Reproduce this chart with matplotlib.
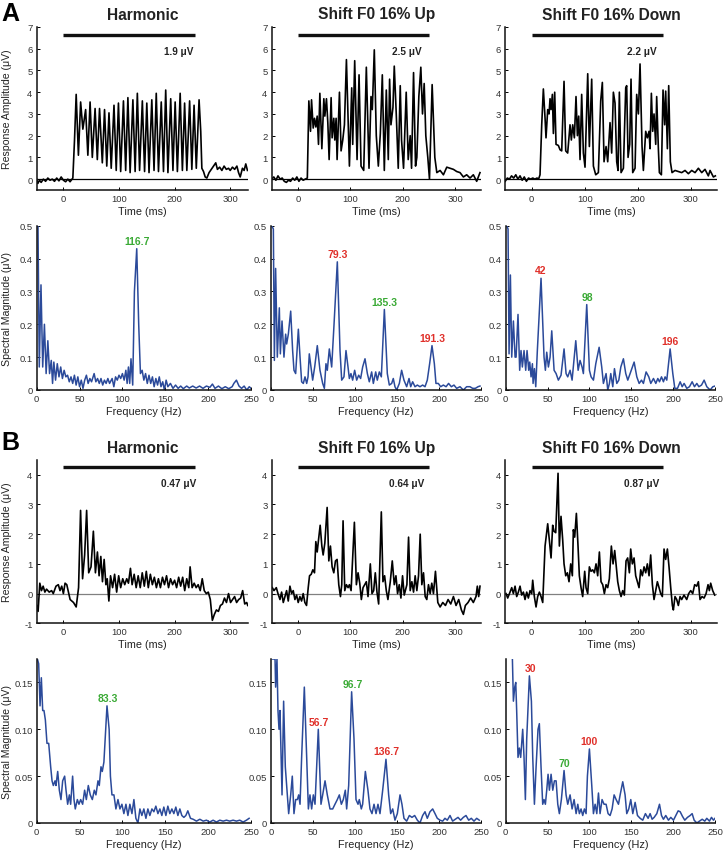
import numpy as np
import matplotlib
matplotlib.use("Agg")
import matplotlib.pyplot as plt

plt.rcParams['font.family'] = ['Liberation Sans', 'DejaVu Sans']
plt.rcParams['axes.unicode_minus'] = False

# ---------------- data ----------------
titles = ['Harmonic', 'Shift F0 16% Up', 'Shift F0 16% Down']
amp_labels_A = ['1.9 \u03bcV', '2.5 \u03bcV', '2.2 \u03bcV']
amp_labels_B = ['0.47 \u03bcV', '0.64 \u03bcV', '0.87 \u03bcV']
stim_end = [237, 250, 248]

# time traces (ms, uV)
time_A_harm = [(-48, 0.0), (-46, -0.2), (-43, -0.05), (-40, -0.15), (-36, 0.0), (-32, -0.1), (-28, 0.05),
               (-24, -0.05), (-20, 0.0), (-16, -0.1), (-12, 0.05), (-8, -0.08), (-4, 0.1), (0, -0.05),
               (4, -0.12), (8, 0.0), (12, -0.12), (17, 0.05), (20, 1.8), (23, 3.9), (27, 1.1), (31, 3.55),
               (35, 2.3), (40, 3.2), (44, 1.1), (48, 3.55), (52, 1.0), (57, 3.25), (61, 0.9), (65, 3.25),
               (70, 0.75), (74, 3.2), (78, 0.6), (82, 3.05), (86, 0.5), (91, 3.4), (95, 0.4), (99, 3.5),
               (103, 0.35), (108, 3.6), (112, 0.4), (116, 3.75), (120, 0.3), (125, 3.65), (129, 0.35),
               (133, 3.95), (137, 0.4), (142, 3.6), (146, 0.35), (150, 3.5), (154, 0.3), (159, 3.65),
               (163, 0.4), (167, 3.95), (171, 0.35), (176, 3.55), (180, 0.35), (184, 4.1), (188, 0.3),
               (193, 3.7), (197, 0.4), (201, 3.55), (205, 0.35), (210, 3.95), (214, 0.4), (218, 3.5),
               (222, 0.4), (227, 3.6), (231, 0.45), (235, 3.4), (239, 0.5), (244, 3.65), (247, 2.2),
               (249, 0.5), (252, 0.35), (255, 0.1), (258, 0.05), (262, 0.3), (266, 0.45), (270, 0.6),
               (274, 0.75), (277, 0.45), (281, 0.55), (285, 0.4), (289, 0.6), (293, 0.45), (297, 0.5),
               (300, 0.4), (304, 0.55), (308, 0.45), (312, 0.6), (315, 0.3), (318, 0.1), (322, 0.5),
               (325, 0.4), (328, 0.7), (331, 0.4)]

time_A_up = [(-50, 0.0), (-46, 0.1), (-42, -0.05), (-38, 0.15), (-34, 0.0), (-30, 0.05), (-26, -0.1),
             (-22, -0.15), (-18, -0.05), (-14, -0.1), (-10, 0.05), (-6, -0.05), (-2, 0.1), (2, -0.1),
             (6, 0.05), (10, -0.05), (14, 0.0), (18, 0.05), (20.9, 3.6), (24.1, 2.2), (26, 3.65), (29.2, 2.35),
             (31.7, 2.8), (34.2, 2.4), (36.8, 2.9), (39.3, 1.6), (41.9, 3.95), (45.7, 1.4), (49.5, 3.7),
             (51.4, 2.9), (54.5, 3.7), (57.1, 2.6), (59.6, 0.9), (63.4, 3.75), (65.3, 1.9), (68.5, 2.8),
             (70.4, 1.8), (72.9, 2.8), (74.8, 0.9), (79.3, 4.0), (82.4, 1.3), (85.6, 1.8), (88.8, 2.5),
             (92.6, 5.5), (98.3, 0.6), (102.7, 4.2), (104.6, 1.6), (108.4, 5.45), (112.9, 0.9), (116.7, 4.8),
             (120.5, 0.6), (125.6, 0.4), (130.6, 5.15), (135.7, 0.5), (139.5, 3.8), (142, 3.2), (145.8, 5.95),
             (149.6, 2.0), (153.5, 0.6), (157.3, 2.1), (161.1, 4.8), (164.9, 0.4), (168.7, 4.1), (172.5, 0.9),
             (175, 4.6), (177.6, 2.5), (181.4, 3.3), (183.9, 5.2), (187.7, 3.0), (191.5, 0.5), (195.3, 4.3),
             (197.8, 1.8), (201.6, 0.5), (206.7, 4.0), (210.5, 0.9), (214.3, 2.0), (216.9, 0.5), (220.7, 4.9),
             (224.5, 0.6), (227, 1.0), (230.8, 3.8), (234.6, 5.15), (237.8, 3.0), (241, 4.4), (244.1, 2.0),
             (247.9, 1.0), (251.1, 0.0), (256.2, 4.35), (261.3, 1.0), (265.1, 0.3), (271.4, 0.4),
             (277.7, 0.2), (284.1, 0.55), (290.4, 0.5), (296.8, 0.45), (303.1, 0.35), (309.4, 0.3),
             (315.8, 0.1), (322.1, 0.2), (328.5, 0.05), (334.8, 0.2), (341.2, -0.1), (347.5, 0.3)]

time_A_down = [(-50, -0.1), (-46, 0.05), (-42, 0.0), (-38, 0.15), (-34, 0.05), (-30, 0.2), (-26, 0.0),
               (-22, 0.15), (-18, -0.05), (-14, 0.1), (-10, -0.1), (-6, 0.05), (-2, 0.0), (2, 0.05),
               (6, 0.0), (10, 0.05), (13, 0.0), (15.7, 0.2), (18.9, 2.5), (22, 4.15), (25.2, 2.8), (27, 1.9),
               (30.2, 3.2), (32.7, 3.0), (34.6, 3.7), (36.5, 3.2), (39, 3.9), (40.9, 2.1), (43.4, 4.0),
               (45.9, 1.6), (50.3, 1.55), (53.5, 1.35), (56.6, 1.3), (61, 4.5), (64.2, 1.3), (67.9, 1.2),
               (72.3, 2.5), (74.8, 1.8), (77.4, 2.5), (80.5, 1.9), (83.6, 3.8), (86.2, 2.0), (88.7, 2.9),
               (91.2, 0.9), (94.3, 3.9), (97.5, 1.2), (100.6, 0.55), (105.7, 4.85), (108.8, 1.5), (113.2, 4.6),
               (116.4, 0.6), (120.8, 0.2), (125.8, 0.3), (130.2, 3.6), (133.3, 4.45), (136.5, 0.8),
               (140.3, 1.5), (143.4, 0.8), (147.8, 2.6), (150.9, 1.2), (154.1, 4.0), (157.2, 3.5),
               (160.4, 0.8), (162.9, 0.4), (165.4, 4.0), (168.6, 0.3), (173, 0.5), (177.4, 4.2), (179.2, 4.3),
               (181.8, 1.0), (184.9, 1.6), (187.4, 4.6), (190.6, 0.3), (195, 0.5), (198.1, 3.9), (201.3, 3.0),
               (204.4, 5.3), (208.2, 1.5), (210.7, 0.4), (215.1, 2.2), (218.2, 1.9), (221.4, 2.2),
               (223.3, 1.4), (225.8, 3.95), (228.3, 2.2), (230.8, 3.0), (234, 1.6), (235.8, 3.8), (239, 1.4),
               (240.9, 0.3), (244.7, 0.2), (247.8, 4.1), (250.9, 2.5), (252.8, 4.05), (256, 1.4),
               (258.5, 4.3), (261.6, 0.8), (264.8, 0.3), (270.4, 0.4), (276.7, 0.35), (283, 0.3),
               (289.3, 0.4), (295.6, 0.25), (301.9, 0.4), (308.2, 0.3), (314.5, 0.5), (320.8, 0.3),
               (327, 0.45), (333.3, 0.15), (336.5, 0.4), (342.8, 0.1), (346.5, 0.15)]

time_B_harm = [(-48, -0.4), (-45.5, -0.6), (-42.4, 0.35), (-39.4, 0.1), (-36.4, 0.25), (-33.3, 0.05),
               (-30.3, 0.15), (-25.5, 0.05), (-21.2, 0.1), (-18.2, 0.0), (-13.3, 0.25), (-9.1, 0.3),
               (-6.1, 0.1), (-3, 0.25), (0, 0.0), (3, 0.35), (6.1, 0.3), (9.1, 0.05), (12.1, -0.2),
               (18.2, -0.3), (23, -0.45), (27.3, 0.2), (30.9, 2.8), (34.5, 0.5), (38.2, 1.3), (41.8, 2.8),
               (45.5, 0.7), (49.7, 0.9), (53.9, 2.1), (57.6, 0.7), (61.2, 1.4), (64.2, 0.6), (67.3, 1.25),
               (70.3, 0.4), (73.3, 1.15), (76.4, 0.3), (78.8, 0.5), (81.8, -0.25), (84.8, 0.6), (88.5, 0.2),
               (92.1, 0.65), (95.8, 0.05), (99.4, 0.6), (103, 0.2), (106.7, 0.5), (110.3, 0.3), (113.9, 0.5),
               (117, 0.35), (120.6, 0.85), (123.6, 0.3), (127.3, 0.65), (130.9, 0.2), (134.5, 0.6),
               (138.2, 0.2), (141.8, 0.7), (145.5, 0.25), (149.1, 0.75), (152.7, 0.2), (156.4, 0.65),
               (160, 0.3), (163.6, 0.55), (167.3, 0.2), (170.9, 0.5), (174.5, 0.2), (178.2, 0.55),
               (181.8, 0.3), (185.5, 0.6), (189.1, 0.2), (192.7, 0.5), (196.4, 0.3), (200, 0.45),
               (203.6, 0.2), (207.3, 0.55), (210.9, 0.25), (214.5, 0.55), (218.2, 0.1), (221.8, 0.5),
               (225.5, 0.2), (227.9, 0.9), (231.5, 0.2), (235.2, 0.35), (238.8, 0.2), (242.4, 0.3),
               (246.1, 0.1), (249.7, 0.5), (253.3, 0.1), (257, 0.0), (260.6, 0.05), (264.2, -0.2),
               (267.9, -0.9), (271.5, -0.7), (275.2, -0.55), (278.8, -0.6), (282.4, -0.4), (286.1, -0.35),
               (289.7, -0.15), (293.3, -0.3), (297, 0.0), (300.6, -0.3), (304.2, -0.2), (307.9, -0.1),
               (311.5, -0.3), (315.2, -0.2), (318.8, -0.15), (322.4, 0.1), (326.1, -0.35), (329.7, -0.3),
               (331.5, -0.4)]

time_B_up = [(-48.8, 0.2), (-45.7, 0.1), (-41.2, 0.2), (-38, 0.0), (-34.2, -0.2), (-31.1, 0.05), (-27.9, -0.3),
             (-24.7, -0.1), (-21.6, 0.1), (-18.4, -0.25), (-15.2, 0.25), (-12, 0.0), (-8.9, 0.1), (-5.7, -0.2),
             (-2.5, -0.05), (0.6, -0.3), (3.8, -0.1), (7, -0.25), (10.1, 0.0), (13.3, -0.3), (16.5, -0.4),
             (19.7, 0.2), (22.2, 0.6), (25.4, 0.65), (28.5, 0.8), (31.7, 0.7), (34.2, 1.75), (36.8, 1.4),
             (39.3, 1.8), (42.5, 2.3), (45.7, 1.6), (48.2, 1.3), (51.4, 1.7), (55.8, 2.9), (59, 1.1),
             (62.1, 1.6), (65.3, 0.9), (68.5, 0.7), (71.7, 1.1), (74.8, 1.15), (78, 0.3), (81.2, -0.1),
             (83.7, 0.3), (86.2, 2.45), (89.4, 0.1), (92.6, 0.3), (95.8, 0.2), (98.3, 0.3), (101.5, 0.1),
             (107.8, 2.4), (111.6, 0.3), (114.8, 0.7), (118, 0.35), (121.1, -0.2), (124.3, 0.2), (127.5, 0.3),
             (130.6, 0.4), (133.8, -0.1), (138.2, 1.0), (141.4, 0.0), (144.6, 0.1), (147.7, 0.7),
             (150.9, 0.05), (154.1, -0.35), (159.2, 2.75), (162.3, 0.4), (165.5, 0.6), (168.7, 0.1),
             (171.8, -0.2), (176.3, 0.4), (180.1, 1.1), (183.9, 0.3), (187.1, 0.6), (190.2, 0.0),
             (193.4, 0.3), (196.6, -0.15), (199.7, 0.6), (202.9, -0.05), (208, 0.3), (211.2, 1.9),
             (214.3, 0.1), (217.5, 0.4), (220.7, 0.05), (223.8, 0.6), (227, 0.1), (230.2, 0.6), (233.4, 2.0),
             (236.5, 0.3), (239.7, 0.7), (242.9, -0.1), (246, -0.2), (249.2, 0.3), (252.4, 0.0),
             (255.5, 0.35), (258.7, 0.0), (262.5, 0.75), (267, -0.3), (271.4, -0.45), (276.5, -0.3),
             (281.6, -0.4), (286.6, -0.2), (291.7, -0.35), (296.8, -0.1), (301.8, -0.4), (306.9, -0.2),
             (312, -0.55), (315.8, -0.7), (319.6, -0.4), (324.7, -0.3), (329.7, -0.15), (334.8, -0.3),
             (339.9, -0.1), (342.4, 0.25), (345, -0.1), (347.5, 0.25)]

time_B_down = [(-48.4, 0.0), (-45.3, -0.15), (-40.9, 0.05), (-37.7, 0.2), (-34.6, 0.0), (-31.4, 0.25),
               (-28.3, -0.1), (-25.2, 0.05), (-22, 0.25), (-18.9, -0.05), (-15.7, 0.05), (-12.6, -0.2),
               (-9.4, 0.05), (-6.3, -0.15), (-3.1, 0.1), (0, 0.0), (1.9, 0.45), (5, -0.1), (8.2, -0.45),
               (11.3, -0.1), (14.5, 0.05), (17.6, -0.1), (20.8, -0.3), (25.2, 1.6), (30.2, 2.35), (33.3, 1.8),
               (36.5, 1.2), (39.6, 2.3), (42.1, 2.1), (45.3, 2.05), (49.7, 4.05), (52.2, 1.6), (55.3, 2.6),
               (58.5, 1.8), (61, 1.0), (64.2, 0.6), (67.3, 0.7), (70.4, 0.4), (73.6, 1.0), (76.7, 0.6),
               (78.6, 2.15), (81.1, 1.9), (84.3, 2.7), (87.4, 1.6), (89.9, 0.6), (93.1, 0.2), (96.2, -0.1),
               (100, 0.75), (102.5, 0.2), (105.7, 0.0), (108.8, 0.9), (111.9, 0.75), (115.1, 0.8),
               (118.2, 0.7), (121.4, 1.0), (124.5, 0.6), (127.7, 1.4), (130.8, 0.4), (134, 0.3), (137.1, 0.0),
               (140.3, 0.3), (143.4, 0.2), (146.5, 0.5), (150.3, 1.6), (153.5, 1.0), (156.6, 1.45),
               (159.1, 1.0), (162.3, 0.4), (165.4, 0.1), (168.6, -0.1), (171.7, 0.1), (174.8, -0.05),
               (178, 1.1), (181.1, 1.2), (184.3, 0.7), (186.8, 1.5), (189.9, 1.0), (193.1, 1.2), (196.2, 0.6),
               (199.4, 0.4), (202.5, 0.2), (205.7, 0.8), (208.8, 0.6), (212, 0.9), (215.1, 0.7), (218.2, 1.0),
               (221.4, 0.6), (224.5, 1.3), (227.7, 0.3), (230.8, -0.2), (234, 0.1), (237.1, 0.4), (240.3, 0.2),
               (243.4, 0.0), (246.5, -0.1), (249.7, 1.5), (252.8, 1.15), (256, 1.5), (259.1, 0.9),
               (262.3, 0.2), (265.4, -0.4), (267.3, -0.55), (270.4, -0.1), (273.6, -0.2), (276.7, -0.4),
               (279.9, -0.1), (283, -0.2), (287.4, -0.05), (292.5, -0.2), (296.2, 0.0), (300, 0.1),
               (303.8, 0.0), (307.5, 0.3), (311.3, 0.25), (314.5, 0.4), (317.6, -0.2), (321.4, -0.1),
               (325.2, -0.15), (329, 0.0), (332.7, 0.3), (335.2, 0.1), (337.7, 0.35), (341.5, 0.1),
               (345.3, -0.05)]

# spectra (Hz, uV)
spec_A_harm = [(0, 0.5), (1.5, 0.5), (3, 0.07), (5, 0.32), (7, 0.07), (9, 0.2), (11, 0.05), (13, 0.15),
               (15, 0.05), (17, 0.09), (18.5, 0.02), (20, 0.085), (22, 0.03), (24, 0.08), (26, 0.04),
               (28, 0.07), (30, 0.035), (32, 0.06), (34, 0.04), (36, 0.045), (38, 0.025), (40, 0.04),
               (42, 0.02), (44, 0.045), (46, 0.015), (48, 0.04), (50, 0.01), (52, 0.03), (54, 0.005),
               (56, 0.03), (58, 0.045), (60, 0.02), (62, 0.035), (64, 0.025), (67, 0.05), (69, 0.025),
               (71, 0.035), (73, 0.02), (75, 0.035), (77, 0.015), (79, 0.03), (81, 0.02), (83, 0.035),
               (85, 0.02), (88, 0.035), (90, 0.01), (92, 0.04), (94, 0.03), (96, 0.045), (98, 0.035),
               (100, 0.05), (102, 0.03), (104, 0.06), (105.5, 0.02), (107, 0.07), (108.5, 0.02), (110, 0.095),
               (112, 0.015), (114, 0.3), (116.7, 0.43), (119, 0.2), (121, 0.05), (123, 0.06), (125, 0.03),
               (127, 0.05), (129, 0.02), (131, 0.045), (133, 0.02), (135, 0.04), (137, 0.01), (139, 0.035),
               (141, 0.015), (143, 0.04), (145, 0.01), (147, 0.025), (149, 0.0), (151, 0.03), (153, 0.01),
               (156, 0.02), (159, 0.005), (162, 0.015), (165, 0.005), (168, 0.012), (171, 0.004),
               (175, 0.012), (178, 0.006), (182, 0.012), (186, 0.006), (190, 0.012), (194, 0.005),
               (198, 0.012), (202, 0.008), (205, 0.018), (208, 0.005), (212, 0.012), (216, 0.004),
               (220, 0.01), (224, 0.004), (228, 0.01), (230, 0.02), (233, 0.03), (236, 0.012), (239, 0.005),
               (242, 0.012), (245, 0.0), (248, 0.01), (250, 0.005)]

spec_A_up = [(0.8, 0.5), (2.8, 0.49), (4, 0.09), (5.5, 0.37), (7.5, 0.1), (9.9, 0.25), (11.1, 0.11),
             (13.1, 0.21), (15.4, 0.1), (17.4, 0.17), (18.6, 0.14), (20.6, 0.17), (23.4, 0.24), (25.7, 0.12),
             (27.3, 0.06), (29.3, 0.05), (32.5, 0.185), (34.5, 0.1), (36.4, 0.025), (38.4, 0.02), (40.4, 0.04),
             (42.4, 0.02), (44, 0.04), (45.5, 0.11), (47.5, 0.07), (49.5, 0.03), (51.9, 0.07), (55, 0.135),
             (58.2, 0.06), (61.4, 0.02), (63.4, 0.005), (65.3, 0.08), (66.9, 0.06), (69.3, 0.125),
             (72.1, 0.07), (74.9, 0.2), (78.8, 0.39), (82, 0.12), (84, 0.03), (86.7, 0.04), (89.1, 0.12),
             (91.5, 0.07), (93.1, 0.035), (95, 0.05), (97, 0.03), (99.4, 0.06), (101.8, 0.03), (104.2, 0.045),
             (106.5, 0.035), (108.9, 0.07), (111.7, 0.095), (114.5, 0.05), (116.8, 0.025), (119.6, 0.055),
             (121.6, 0.02), (124.4, 0.055), (126.3, 0.03), (128.7, 0.055), (131.1, 0.04), (134.7, 0.245),
             (138.2, 0.05), (140.6, 0.015), (143.4, 0.02), (145.3, 0.035), (147.3, 0.01), (149.3, 0.0),
             (152.5, 0.02), (155.2, 0.06), (158, 0.03), (161.2, 0.01), (164, 0.035), (166, 0.01),
             (168.3, 0.025), (171.1, 0.01), (173.9, 0.015), (177, 0.01), (180.2, 0.015), (183, 0.01),
             (185.7, 0.03), (188.5, 0.08), (191.3, 0.135), (194.1, 0.08), (196, 0.02), (198.8, 0.02),
             (201.6, 0.01), (204.8, 0.015), (208, 0.01), (211, 0.02), (214.3, 0.01), (217.4, 0.015),
             (220.6, 0.005), (224.6, 0.01), (228.5, 0.0), (232.5, 0.01), (236.4, 0.01), (239.6, 0.005),
             (242.8, 0.005), (246, 0.01), (248.3, 0.012)]

spec_A_down = [(1.2, 0.5), (2.8, 0.49), (4, 0.11), (5.6, 0.35), (7.2, 0.1), (9.2, 0.21), (11.2, 0.1),
               (12.4, 0.1), (14.7, 0.23), (16.7, 0.06), (18.3, 0.12), (19.9, 0.07), (21.9, 0.12), (23.9, 0.06),
               (25.5, 0.12), (27.5, 0.06), (28.7, 0.085), (30.3, 0.04), (31.9, 0.08), (32.7, 0.02),
               (34.3, 0.065), (35.9, 0.01), (37.8, 0.12), (42.2, 0.34), (45.8, 0.1), (47.4, 0.06), (49, 0.115),
               (51, 0.07), (53, 0.1), (55, 0.18), (57.8, 0.06), (60.2, 0.05), (62.9, 0.03), (66.1, 0.045),
               (69.7, 0.125), (72.1, 0.05), (74.1, 0.04), (76.9, 0.06), (79.3, 0.03), (83.7, 0.15),
               (86.5, 0.06), (88.8, 0.09), (91.2, 0.07), (92.8, 0.05), (96.8, 0.26), (100, 0.06), (102, 0.04),
               (104.8, 0.03), (107.6, 0.08), (111.6, 0.13), (114.7, 0.07), (116.7, 0.02), (119.9, 0.05),
               (121.9, 0.0), (123.9, 0.02), (125.5, 0.05), (127.9, 0.01), (129.9, 0.065), (132.7, 0.02),
               (135.1, 0.03), (137.5, 0.07), (140.6, 0.095), (143.4, 0.05), (145.8, 0.03), (148.6, 0.05),
               (153.4, 0.085), (156.6, 0.04), (159.4, 0.02), (162.2, 0.03), (164.5, 0.02), (167.7, 0.055),
               (170.9, 0.04), (173.3, 0.02), (176.5, 0.035), (179.3, 0.02), (181.7, 0.035), (183.7, 0.025),
               (186.1, 0.04), (188.4, 0.025), (190.4, 0.04), (192.4, 0.03), (196.4, 0.125), (199.6, 0.05),
               (202, 0.005), (205.2, 0.005), (208.4, 0.025), (210.8, 0.01), (213.1, 0.02), (216.3, 0.005),
               (219.5, 0.01), (222.7, 0.025), (225.5, 0.01), (228.3, 0.02), (230.7, 0.01), (233.9, 0.015),
               (237, 0.03), (240.2, 0.01), (244.2, 0.0), (247.4, 0.01), (250, 0.012)]

spec_B_harm = [(0.8, 0.175), (2.3, 0.17), (3.9, 0.125), (5.4, 0.155), (7, 0.12), (8.5, 0.12), (10.1, 0.11),
               (12, 0.085), (14, 0.085), (16.3, 0.06), (17.9, 0.045), (19.4, 0.04), (21.4, 0.045),
               (22.5, 0.04), (24.5, 0.055), (26.4, 0.035), (28.3, 0.025), (30.3, 0.045), (32.6, 0.05),
               (34.2, 0.035), (36.1, 0.02), (38.1, 0.03), (39.6, 0.02), (41.9, 0.05), (43.5, 0.025),
               (45, 0.015), (47.4, 0.025), (49.3, 0.02), (51.3, 0.025), (53.6, 0.02), (55.9, 0.035),
               (57.9, 0.025), (60.2, 0.04), (62.5, 0.03), (64.9, 0.025), (67.2, 0.035), (69.1, 0.03),
               (71.5, 0.045), (73, 0.04), (75, 0.06), (76.5, 0.055), (78.4, 0.065), (82, 0.125), (84.5, 0.1),
               (86, 0.05), (87.8, 0.03), (90.1, 0.03), (92.4, 0.015), (94.8, 0.025), (97.1, 0.015),
               (99.4, 0.02), (101.7, 0.01), (104.1, 0.02), (106.4, 0.008), (108.7, 0.02), (111.1, 0.01),
               (113.4, 0.025), (115.7, 0.005), (118.1, 0.0), (120.4, 0.015), (122.7, 0.008), (125, 0.015),
               (127.4, 0.005), (129.7, 0.015), (132, 0.008), (134.4, 0.015), (136.7, 0.012), (139, 0.018),
               (141.4, 0.01), (143.7, 0.015), (146, 0.008), (148.3, 0.017), (150.7, 0.008), (153, 0.018),
               (155.3, 0.01), (157.7, 0.015), (160, 0.01), (162.3, 0.017), (164.7, 0.008), (167, 0.015),
               (169.3, 0.008), (171.7, 0.006), (174, 0.008), (176.3, 0.013), (179.4, 0.005), (182.5, 0.004),
               (186.4, 0.002), (190.3, 0.004), (194.2, 0.002), (198.1, 0.003), (201.9, 0.001), (205.8, 0.003),
               (209.7, 0.001), (213.6, 0.003), (217.5, 0.002), (221.4, 0.003), (225.2, 0.002), (229.1, 0.003),
               (233, 0.002), (236.9, 0.003), (240.8, 0.001), (244.7, 0.003), (247.8, 0.005)]

spec_B_up = [(1.6, 0.175), (4.8, 0.175), (5.5, 0.145), (7.1, 0.175), (8.3, 0.12), (9.5, 0.1), (10.7, 0.12),
             (13.1, 0.03), (15, 0.13), (17, 0.06), (19.4, 0.03), (21, 0.01), (23.4, 0.03), (25.3, 0.05),
             (27.3, 0.01), (29.3, 0.025), (31.3, 0.025), (32.9, 0.03), (34.5, 0.02), (36.4, 0.07),
             (39.6, 0.145), (42.4, 0.07), (44.4, 0.015), (46.3, 0.03), (48.3, 0.015), (50.3, 0.03),
             (52.3, 0.02), (56.2, 0.1), (59.4, 0.02), (61.4, 0.03), (64.2, 0.045), (66.9, 0.03),
             (70.1, 0.015), (73.3, 0.015), (76, 0.02), (78.8, 0.025), (81.2, 0.03), (83.6, 0.02),
             (85.9, 0.025), (88.3, 0.035), (89.9, 0.015), (92.3, 0.04), (95.8, 0.14), (98.6, 0.09),
             (101, 0.025), (103.4, 0.02), (104.9, 0.025), (107.3, 0.015), (108.9, 0.02), (112.1, 0.055),
             (115.2, 0.035), (117.6, 0.015), (120, 0.01), (122.4, 0.02), (124.8, 0.01), (127.1, 0.02),
             (129.5, 0.01), (132.7, 0.035), (136.6, 0.068), (139.8, 0.03), (142.2, 0.01), (144.6, 0.015),
             (147.3, 0.003), (150.1, 0.01), (153.3, 0.03), (155.6, 0.02), (158, 0.005), (161.2, 0.002),
             (164.4, 0.008), (167.5, 0.006), (170.7, 0.008), (173.9, 0.003), (177, 0.0), (180.2, 0.008),
             (183, 0.012), (185.7, 0.005), (188.9, 0.012), (192.1, 0.015), (194.9, 0.01), (197.6, 0.005),
             (200.8, 0.003), (204, 0.002), (206.7, 0.005), (209.5, 0.003), (212.7, 0.008), (215.8, 0.002),
             (219, 0.004), (222.2, 0.006), (225.3, 0.003), (228.5, 0.006), (231.7, 0.008), (234.9, 0.003),
             (238, 0.005), (241.2, 0.002), (244.4, 0.005), (247.5, 0.003)]

spec_B_down = [(8, 0.175), (9.2, 0.13), (10.8, 0.145), (12, 0.15), (13.1, 0.12), (14.7, 0.07), (16.3, 0.08),
               (17.9, 0.07), (20.3, 0.1), (21.9, 0.07), (23.5, 0.025), (25.1, 0.09), (28.3, 0.157),
               (30.7, 0.13), (32.3, 0.07), (34.3, 0.02), (36.3, 0.06), (38.6, 0.1), (40.2, 0.106), (42.2, 0.06),
               (44.2, 0.02), (45.8, 0.025), (47.4, 0.02), (49, 0.035), (50.6, 0.052), (52.2, 0.035),
               (54.2, 0.052), (56.2, 0.035), (58.2, 0.045), (60.2, 0.045), (62.2, 0.02), (64.1, 0.01),
               (66.5, 0.025), (69.7, 0.056), (72.1, 0.03), (74.1, 0.02), (76.9, 0.03), (79.3, 0.015),
               (81.7, 0.025), (84.1, 0.01), (86.1, 0.02), (88, 0.01), (90, 0.015), (92, 0.008), (94, 0.015),
               (96, 0.01), (97.6, 0.05), (100, 0.079), (102.8, 0.04), (104.8, 0.01), (106.8, 0.02),
               (108.8, 0.01), (110.8, 0.032), (112.7, 0.01), (115.1, 0.025), (117.5, 0.02), (119.9, 0.02),
               (122.3, 0.01), (124.7, 0.008), (127.1, 0.015), (129.5, 0.03), (131.9, 0.025), (134.7, 0.02),
               (136.7, 0.03), (139.8, 0.044), (142.6, 0.03), (144.6, 0.01), (147, 0.015), (149.4, 0.025),
               (151.8, 0.01), (154.6, 0.022), (157.4, 0.008), (160.6, 0.005), (163.7, 0.003), (166.9, 0.01),
               (170.1, 0.005), (172.5, 0.01), (174.9, 0.004), (177.3, 0.006), (180.5, 0.01), (183.7, 0.02),
               (186.1, 0.008), (188.4, 0.004), (191.2, 0.008), (194.4, 0.003), (197.2, 0.006), (200.4, 0.003),
               (203.2, 0.008), (206, 0.013), (208.4, 0.012), (211.2, 0.007), (213.9, 0.003), (217.1, 0.006),
               (220.3, 0.008), (222.7, 0.01), (225.1, 0.003), (228.3, 0.0), (231.5, 0.002), (234.7, 0.004),
               (237.8, 0.002), (240.2, 0.005), (243.4, 0.002), (245.8, 0.006), (248.2, 0.003), (250, 0.005)]

# labelled spectral peaks: (frequency, height, is_F0)
peaks_A = [[(116.7, 0.43, True)],
           [(79.3, 0.39, False), (135.3, 0.245, True), (191.3, 0.135, False)],
           [(42, 0.34, False), (98, 0.26, True), (196, 0.125, False)]]
peaks_B = [[(83.3, 0.125, True)],
           [(96.7, 0.14, True), (56.7, 0.10, False), (136.7, 0.068, False)],
           [(30, 0.157, False), (70, 0.056, True), (100, 0.079, False)]]

# ---------------- layout (pixels of the 724x853 original) ----------------
W, H = 724, 853
time_cols = [(36.7, 248), (271.7, 481.3), (505.2, 717.2)]
spec_cols = [(36.7, 251), (271, 481.4), (505.7, 715)]
rows = [(28, 191), (226.7, 391), (460.9, 624.3), (660, 824)]
time_xlims = [(-48, 332), (-50, 350), (-50, 350)]

GREEN = '#3aaa35'
RED = '#e0302a'
BLUE = '#2b4a9a'
TXT = '#222222'


def make_ax(fig, col, row):
    (x0, x1), (y0, y1) = col, row
    ax = fig.add_axes([x0 / W, 1 - y1 / H, (x1 - x0) / W, (y1 - y0) / H])
    for s in ['top', 'right']:
        ax.spines[s].set_visible(False)
    for s in ['left', 'bottom']:
        ax.spines[s].set_linewidth(1.1)
        ax.spines[s].set_color('#111111')
    ax.tick_params(direction='in', length=2.5, width=0.7, labelsize=6.8,
                   labelcolor='#333333', pad=3)
    return ax


def time_panel(ax, data, xlim, ylim, yticks, bar_y, bar_end, label, label_y, zero_col):
    t, v = np.array(data).T
    ax.axhline(0, color=zero_col, lw=0.9, zorder=1)
    ax.plot(t, v, color='black', lw=1.2, zorder=2)
    ax.plot([0, bar_end], [bar_y, bar_y], color='#111111', lw=2.4, solid_capstyle='butt')
    ax.text(207, label_y, label, ha='center', va='center', fontsize=7.2,
            fontweight='bold', color=TXT)
    ax.set_xlim(*xlim)
    ax.set_ylim(*ylim)
    ax.set_xticks([0, 100, 200, 300])
    ax.set_yticks(yticks)
    ax.set_xlabel('Time (ms)', fontsize=7.8, color=TXT, labelpad=2)


def spec_panel(ax, data, ylim, yticks, yticklabels, peaks):
    f, m = np.array(data).T
    ax.plot(f, m, color=BLUE, lw=1.1, clip_on=True)
    for freq, height, is_f0 in peaks:
        ax.annotate('%g' % freq, (freq, height), xytext=(0, 2), textcoords='offset points',
                    ha='center', va='bottom', fontsize=7.5, fontweight='bold',
                    color=GREEN if is_f0 else RED)
    ax.set_xlim(0, 250)
    ax.set_ylim(*ylim)
    ax.set_xticks([0, 50, 100, 150, 200, 250])
    ax.set_yticks(yticks)
    ax.set_yticklabels(yticklabels)
    ax.set_xlabel('Frequency (Hz)', fontsize=7.8, color=TXT, labelpad=2)


fig = plt.figure(figsize=(W / 100, H / 100), dpi=100)

times_A = [time_A_harm, time_A_up, time_A_down]
times_B = [time_B_harm, time_B_up, time_B_down]
specs_A = [spec_A_harm, spec_A_up, spec_A_down]
specs_B = [spec_B_harm, spec_B_up, spec_B_down]

for i in range(3):
    ax = make_ax(fig, time_cols[i], rows[0])
    time_panel(ax, times_A[i], time_xlims[i], (-0.5, 7), range(0, 8), 6.65, stim_end[i],
               amp_labels_A[i], 5.9, 'black')
    ax = make_ax(fig, spec_cols[i], rows[1])
    spec_panel(ax, specs_A[i], (0, 0.5), [0, 0.1, 0.2, 0.3, 0.4, 0.5],
               ['0', '0.1', '0.2', '0.3', '0.4', '0.5'], peaks_A[i])
    ax = make_ax(fig, time_cols[i], rows[2])
    time_panel(ax, times_B[i], time_xlims[i], (-1, 4.5), range(-1, 5), 4.25, stim_end[i],
               amp_labels_B[i], 3.72, '#808080')
    ax = make_ax(fig, spec_cols[i], rows[3])
    spec_panel(ax, specs_B[i], (0, 0.175), [0, 0.05, 0.10, 0.15],
               ['0', '0.05', '0.10', '0.15'], peaks_B[i])

    cx = (time_cols[i][0] + time_cols[i][1]) / 2 / W
    fig.text(cx, 1 - 15 / H, titles[i], ha='center', va='center', fontsize=11.2,
             fontweight='bold', color=TXT)
    fig.text(cx, 1 - 449 / H, titles[i], ha='center', va='center', fontsize=11.2,
             fontweight='bold', color=TXT)

# y-axis labels of the left column
ylabels = ['Response Amplitude (\u03bcV)', 'Spectral Magnitude (\u03bcV)',
           'Response Amplitude (\u03bcV)', 'Spectral Magnitude (\u03bcV)']
for (y0, y1), lab in zip(rows, ylabels):
    fig.text(7 / W, 1 - (y0 + y1) / 2 / H, lab, rotation=90, ha='center', va='center',
             fontsize=7.6, color=TXT)

fig.text(10 / W, 1 - 14 / H, 'A', ha='center', va='center', fontsize=18, fontweight='bold')
fig.text(10 / W, 1 - 443 / H, 'B', ha='center', va='center', fontsize=18, fontweight='bold')

fig.savefig('out.png', dpi=100)
